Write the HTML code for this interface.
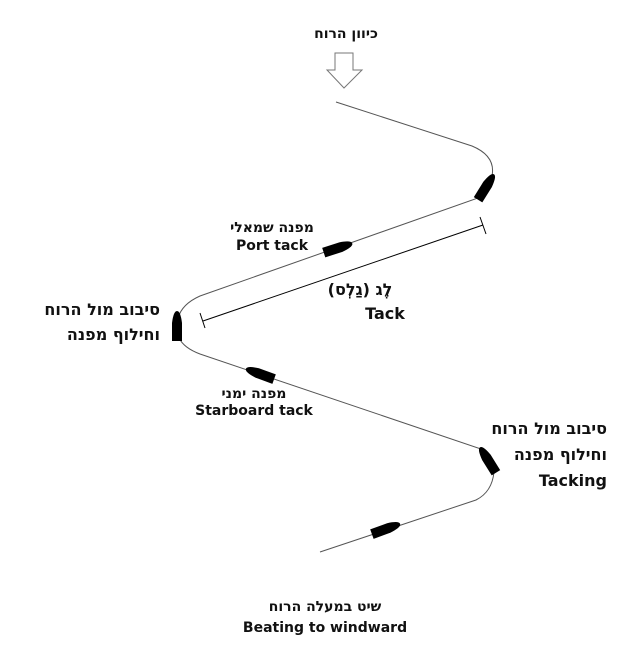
<!DOCTYPE html>
<html><head><meta charset="utf-8"><style>
body{margin:0;background:#fff;}
svg{display:block}
text{font-family:"DejaVu Sans","Noto Sans CJK SC",sans-serif;font-weight:bold;fill:#111}
.rtl{direction:rtl;unicode-bidi:embed}
</style></head><body>
<svg width="626" height="654" viewBox="0 0 626 654" xmlns="http://www.w3.org/2000/svg">
<defs>
<path id="b" d="M-15,-5 L3,-5 Q15,-3.5 15,0 Q15,3.5 3,5 L-15,5 Z" fill="#000"/>
</defs>
<g fill="none" stroke="#555" stroke-width="1">
<path d="M336,102 L472,146 Q496,156 492,176 L478,198 L200,296 Q182,304 178,318 L179,338 Q184,348 200,354 L484,450 L494,472 Q492,492 476,500 L320,552"/>
</g>
<polygon points="335,53 353,53 353,70 362,70 344,88 327,70 335,70" fill="#fff" stroke="#777" stroke-width="1"/>
<g stroke="#000" stroke-width="1">
<line x1="203" y1="321" x2="483" y2="225"/>
<line x1="200" y1="313" x2="205" y2="328"/>
<line x1="480" y1="217" x2="486" y2="234"/>
</g>
<use href="#b" transform="translate(486,187) rotate(-58)"/>
<use href="#b" transform="translate(338,248) rotate(-18)"/>
<use href="#b" transform="translate(177,326) rotate(-90)"/>
<use href="#b" transform="translate(260,374) rotate(200)"/>
<use href="#b" transform="translate(488,460) rotate(238)"/>
<use href="#b" transform="translate(386,529) rotate(-20)"/>
<g font-size="14" text-anchor="middle">
<text x="346" y="38" class="rtl">כיוון הרוח</text>
<text x="272" y="232" class="rtl">מפנה שמאלי</text>
<text x="272" y="250">Port tack</text>
<text x="254" y="398" class="rtl">מפנה ימני</text>
<text x="254" y="415">Starboard tack</text>
<text x="325" y="611" class="rtl">שיט במעלה הרוח</text>
<text x="325" y="632">Beating to windward</text>
</g>
<g font-size="16">
<text x="360" y="295" text-anchor="middle" class="rtl">לֶג (גַלְס)</text>
<text x="385" y="319" text-anchor="middle">Tack</text>
<text x="160" y="315" text-anchor="start" class="rtl">סיבוב מול הרוח</text>
<text x="160" y="340" text-anchor="start" class="rtl">וחילוף מפנה</text>
<text x="607" y="434" text-anchor="start" class="rtl">סיבוב מול הרוח</text>
<text x="607" y="460" text-anchor="start" class="rtl">וחילוף מפנה</text>
<text x="607" y="486" text-anchor="end">Tacking</text>
</g>
</svg>
</body></html>
